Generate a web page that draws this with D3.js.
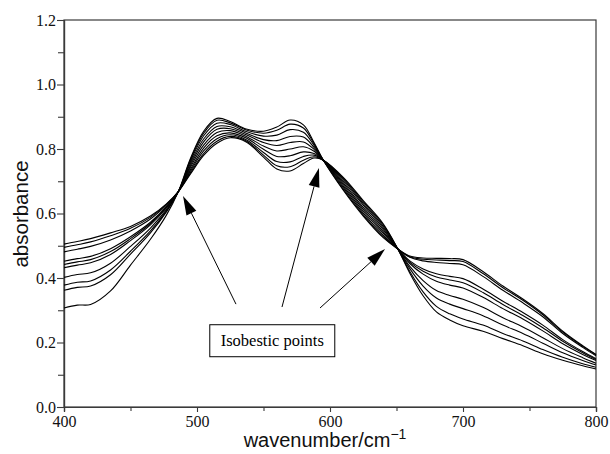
<!DOCTYPE html>
<html>
<head>
<meta charset="utf-8">
<script src="https://cdn.jsdelivr.net/npm/d3@7"></script>
<style>
  body { margin: 0; background: #fff; }
  svg { display: block; }
</style>
</head>
<body>
<svg id="chart" width="610" height="454"></svg>
<script>
// Absorbance spectra recorded over a titration series (wavenumber in cm^-1)
const wavenumbers = [400, 410, 420, 435, 450, 465, 477, 486, 495, 505, 515, 525, 537, 550, 560, 570, 580, 588, 595, 610, 625, 640, 651, 660, 670, 680, 690, 700, 715, 730, 745, 760, 775, 790, 800];

const spectrum1  = [0.505, 0.513, 0.522, 0.540, 0.560, 0.592, 0.630, 0.668, 0.722, 0.780, 0.818, 0.835, 0.822, 0.775, 0.738, 0.732, 0.755, 0.772, 0.765, 0.712, 0.640, 0.568, 0.490, 0.415, 0.345, 0.295, 0.270, 0.252, 0.235, 0.212, 0.190, 0.165, 0.145, 0.128, 0.118];
const spectrum2  = [0.495, 0.503, 0.512, 0.531, 0.554, 0.588, 0.628, 0.668, 0.726, 0.786, 0.824, 0.839, 0.825, 0.781, 0.748, 0.745, 0.765, 0.776, 0.765, 0.709, 0.636, 0.565, 0.490, 0.420, 0.357, 0.312, 0.289, 0.273, 0.254, 0.228, 0.205, 0.178, 0.154, 0.134, 0.123];
const spectrum3  = [0.481, 0.489, 0.498, 0.518, 0.546, 0.583, 0.626, 0.668, 0.731, 0.794, 0.832, 0.844, 0.829, 0.789, 0.761, 0.760, 0.777, 0.781, 0.765, 0.705, 0.631, 0.560, 0.490, 0.429, 0.375, 0.338, 0.319, 0.305, 0.283, 0.254, 0.228, 0.198, 0.168, 0.144, 0.130];
const spectrum4  = [0.452, 0.460, 0.467, 0.491, 0.528, 0.573, 0.621, 0.668, 0.736, 0.803, 0.841, 0.850, 0.834, 0.799, 0.777, 0.779, 0.791, 0.786, 0.765, 0.700, 0.626, 0.555, 0.490, 0.436, 0.392, 0.361, 0.346, 0.334, 0.309, 0.277, 0.248, 0.215, 0.181, 0.153, 0.136];
const spectrum5  = [0.442, 0.450, 0.457, 0.482, 0.522, 0.569, 0.619, 0.668, 0.743, 0.812, 0.851, 0.857, 0.839, 0.809, 0.794, 0.800, 0.807, 0.793, 0.765, 0.695, 0.619, 0.550, 0.490, 0.445, 0.412, 0.390, 0.378, 0.369, 0.340, 0.305, 0.273, 0.236, 0.196, 0.163, 0.144];
const spectrum6  = [0.432, 0.440, 0.447, 0.473, 0.516, 0.565, 0.617, 0.668, 0.749, 0.822, 0.861, 0.863, 0.844, 0.820, 0.811, 0.820, 0.822, 0.799, 0.765, 0.690, 0.613, 0.544, 0.490, 0.449, 0.421, 0.403, 0.394, 0.385, 0.355, 0.318, 0.284, 0.246, 0.204, 0.168, 0.147];
const spectrum7  = [0.402, 0.411, 0.416, 0.446, 0.498, 0.555, 0.612, 0.668, 0.755, 0.831, 0.870, 0.869, 0.849, 0.829, 0.826, 0.839, 0.837, 0.805, 0.765, 0.685, 0.607, 0.539, 0.490, 0.453, 0.428, 0.413, 0.405, 0.398, 0.366, 0.328, 0.293, 0.254, 0.209, 0.172, 0.150];
const spectrum8  = [0.378, 0.387, 0.391, 0.425, 0.483, 0.546, 0.608, 0.668, 0.761, 0.841, 0.880, 0.876, 0.854, 0.840, 0.843, 0.860, 0.852, 0.811, 0.765, 0.680, 0.601, 0.533, 0.490, 0.464, 0.453, 0.448, 0.445, 0.441, 0.405, 0.362, 0.323, 0.280, 0.228, 0.185, 0.159];
const spectrum9  = [0.362, 0.371, 0.375, 0.410, 0.474, 0.540, 0.605, 0.668, 0.766, 0.849, 0.889, 0.881, 0.859, 0.849, 0.858, 0.877, 0.865, 0.816, 0.765, 0.675, 0.596, 0.528, 0.490, 0.466, 0.458, 0.456, 0.454, 0.451, 0.414, 0.370, 0.331, 0.286, 0.232, 0.188, 0.162];
const spectrum10 = [0.307, 0.316, 0.318, 0.360, 0.440, 0.520, 0.595, 0.668, 0.770, 0.855, 0.895, 0.885, 0.862, 0.855, 0.868, 0.890, 0.875, 0.820, 0.765, 0.672, 0.592, 0.525, 0.490, 0.468, 0.462, 0.461, 0.460, 0.457, 0.420, 0.375, 0.335, 0.290, 0.235, 0.190, 0.163];

const spectra = [spectrum1, spectrum2, spectrum3, spectrum4, spectrum5,
                 spectrum6, spectrum7, spectrum8, spectrum9, spectrum10];

const xTickValues = [400, 500, 600, 700, 800];
const xMinorTicks = [450, 550, 650, 750];
const yTickValues = [0.0, 0.2, 0.4, 0.6, 0.8, 1.0, 1.2];
const yMinorTicks = [0.1, 0.3, 0.5, 0.7, 0.9, 1.1];

// Callout arrows pointing at the three crossing points: [wavenumber, absorbance]
const arrowTails = [[529.3, 0.319], [563.9, 0.310], [592.5, 0.307]];
const arrowTips  = [[489.5, 0.654], [591.7, 0.741], [641.4, 0.490]];
const calloutCenter = [556.6, 0.2055];
const calloutText = "Isobestic points";

const xLabel = "wavenumber/cm";
const xLabelSup = "\u22121";
const yLabel = "absorbance";

const svg = d3.select("#chart");
const x = d3.scaleLinear().domain([400, 800]).range([64, 596]);
const y = d3.scaleLinear().domain([0, 1.2]).range([407, 20]);

const SERIF = "Liberation Serif";
const SANS = "Liberation Sans";
const axisColor = "#3a3a3a";

// Plot frame
svg.append("rect")
  .attr("x", x(400)).attr("y", y(1.2))
  .attr("width", x(800) - x(400)).attr("height", y(0) - y(1.2))
  .attr("fill", "none").attr("stroke", axisColor).attr("stroke-width", 1.2);

// Axes: labelled major ticks plus unlabelled minor ticks
function styleAxis(g) {
  g.attr("font-family", SERIF).attr("font-size", 16);
  g.select(".domain").attr("stroke", axisColor).attr("stroke-width", 1.2);
  g.selectAll(".tick line").attr("stroke", axisColor).attr("stroke-width", 1.1);
  g.selectAll(".tick text").attr("fill", "#111")
    .attr("font-family", SERIF).attr("font-size", 16)
    .style("font-family", `"${SERIF}"`).style("font-size", "16px");
}

svg.append("g").attr("transform", `translate(0,${y(0)})`)
  .call(d3.axisBottom(x).tickValues(xTickValues).tickFormat(d3.format("d"))
    .tickSize(5).tickPadding(4))
  .call(styleAxis);
svg.append("g").attr("transform", `translate(0,${y(0)})`)
  .call(d3.axisBottom(x).tickValues(xMinorTicks).tickFormat("").tickSize(4))
  .call(styleAxis);

svg.append("g").attr("transform", `translate(${x(400)},0)`)
  .call(d3.axisLeft(y).tickValues(yTickValues).tickFormat(d3.format(".1f"))
    .tickSize(7).tickPadding(1))
  .call(styleAxis);
svg.append("g").attr("transform", `translate(${x(400)},0)`)
  .call(d3.axisLeft(y).tickValues(yMinorTicks).tickFormat("").tickSize(6))
  .call(styleAxis);

// Spectra
const line = d3.line()
  .x((d, i) => x(wavenumbers[i]))
  .y(d => y(d))
  .curve(d3.curveCatmullRom.alpha(0.5));

svg.append("g").selectAll("path").data(spectra).join("path")
  .attr("d", line)
  .attr("fill", "none")
  .attr("stroke", "#000")
  .attr("stroke-width", 1.1);

// Arrows
const headLen = 19, headHalf = 5.5;
const arrows = svg.append("g");
arrowTails.forEach((tail, i) => {
  const [x0, y0] = [x(tail[0]), y(tail[1])];
  const [x1, y1] = [x(arrowTips[i][0]), y(arrowTips[i][1])];
  const dx = x1 - x0, dy = y1 - y0, len = Math.hypot(dx, dy);
  const ux = dx / len, uy = dy / len;
  const bx = x1 - ux * headLen, by = y1 - uy * headLen;
  arrows.append("line")
    .attr("x1", x0).attr("y1", y0).attr("x2", bx).attr("y2", by)
    .attr("stroke", "#000").attr("stroke-width", 1);
  arrows.append("polygon")
    .attr("points", [[x1, y1], [bx - uy * headHalf, by + ux * headHalf], [bx + uy * headHalf, by - ux * headHalf]]
      .map(p => p.join(",")).join(" "))
    .attr("fill", "#000");
});

// Callout box
const cx = x(calloutCenter[0]), cy = y(calloutCenter[1]);
svg.append("rect")
  .attr("x", cx - 62.5).attr("y", cy - 16)
  .attr("width", 125).attr("height", 32)
  .attr("fill", "#fff").attr("stroke", "#000").attr("stroke-width", 1);
svg.append("text")
  .attr("x", cx).attr("y", cy + 5.5)
  .attr("text-anchor", "middle")
  .attr("font-family", SERIF).attr("font-size", 16.5)
  .style("font-family", `"${SERIF}"`).style("font-size", "16.5px")
  .text(calloutText);

// Axis titles
const xt = svg.append("text")
  .attr("x", 325).attr("y", 447)
  .attr("text-anchor", "middle")
  .attr("font-family", SANS)
  .style("font-family", `"${SANS}"`).style("font-size", "20px")
  .attr("fill", "#111");
xt.append("tspan").text(xLabel);
xt.append("tspan").attr("dy", -8).style("font-size", "14px").text(xLabelSup);

svg.append("text")
  .attr("transform", "translate(28,214) rotate(-90)")
  .attr("text-anchor", "middle")
  .attr("font-family", SANS)
  .style("font-family", `"${SANS}"`).style("font-size", "20.5px")
  .attr("fill", "#111")
  .text(yLabel);
</script>
</body>
</html>
